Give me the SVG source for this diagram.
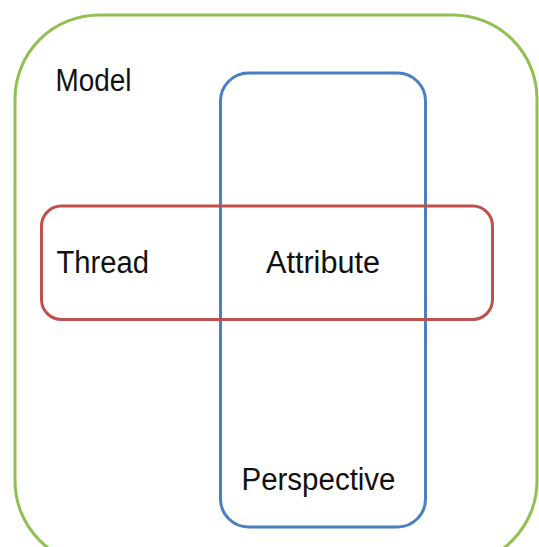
<svg xmlns="http://www.w3.org/2000/svg" width="539" height="547" viewBox="0 0 539 547">
  <style>
    .box { fill: none; stroke-width: 3; }
    .label { font-family: "Liberation Sans", Arial, sans-serif; font-size: 31px; fill: #111; }
  </style>
  <rect width="539" height="547" fill="#fff"/>
  <g id="model">
    <rect class="box" x="15" y="15" width="522" height="550" rx="84" ry="84" stroke="#92c050"/>
    <text class="label" x="55.5" y="91" textLength="76" lengthAdjust="spacingAndGlyphs">Model</text>
  </g>
  <g id="perspective">
    <rect class="box" x="220.5" y="73" width="205" height="454" rx="28" ry="28" stroke="#4a7fc1"/>
    <text class="label" x="241.5" y="490" textLength="154" lengthAdjust="spacingAndGlyphs">Perspective</text>
  </g>
  <g id="thread">
    <rect class="box" x="41.5" y="206" width="451" height="113.5" rx="20" ry="20" stroke="#c0504d"/>
    <text class="label" x="56.5" y="273" textLength="92.5" lengthAdjust="spacingAndGlyphs">Thread</text>
  </g>
  <g id="attribute">
    <text class="label" x="266" y="273" textLength="114" lengthAdjust="spacingAndGlyphs">Attribute</text>
  </g>
  <g id="connectors"></g>
</svg>
